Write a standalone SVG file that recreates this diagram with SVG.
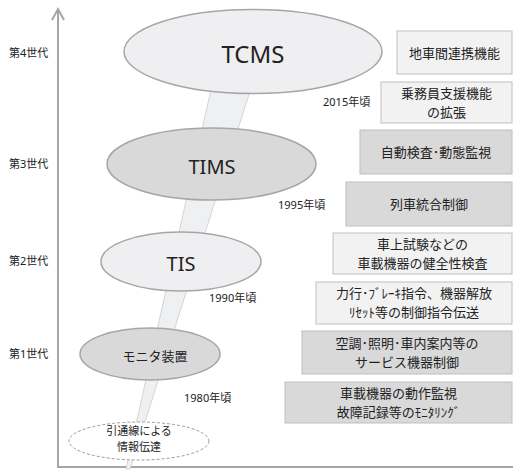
<svg xmlns="http://www.w3.org/2000/svg" width="513" height="473" viewBox="0 0 513 473">
<style>
text{font-family:"Noto Sans","Noto Sans CJK JP",sans-serif;fill:#222;dominant-baseline:central;text-anchor:middle}
.gen{font-size:11px;text-anchor:start}
.yr{font-size:11px;text-anchor:start}
.bx{font-size:13px}
.el{stroke:#a6a6a6;stroke-width:1.5}
.light{fill:#efeff1}
.dark{fill:#d9d9d9}
.box{stroke:#bfbfbf;stroke-width:1}
.bl{fill:#f2f2f2}
.bd{fill:#d9d9d9}
</style>
<g id="axis" fill="none" stroke="#a6a6a6" stroke-width="2">
<line x1="58" y1="9" x2="58" y2="467"/>
<line x1="57" y1="467" x2="513" y2="467"/>
<polyline points="52,20 58,9 64,20"/>
</g>
<g id="connectors">
<polygon points="212,85 252,85 130,469 126,469" fill="#eff0f2" stroke="#d4d4d4" stroke-width="1"/>
</g>
<g id="gen-labels">
<text class="gen" x="9" y="52">第4世代</text>
<text class="gen" x="9" y="163">第3世代</text>
<text class="gen" x="9" y="260">第2世代</text>
<text class="gen" x="9" y="353">第1世代</text>
</g>
<g id="n-tcms"><ellipse class="el light" cx="253" cy="51.5" rx="129" ry="42"/><text x="253" y="53" style="font-size:24px">TCMS</text></g>
<g id="n-tims"><ellipse class="el dark" cx="211.5" cy="164" rx="104.5" ry="36"/><text x="212" y="166" style="font-size:20px">TIMS</text></g>
<g id="n-tis"><ellipse class="el light" cx="181" cy="261.5" rx="80" ry="29.5"/><text x="181" y="263" style="font-size:20px">TIS</text></g>
<g id="n-monitor"><ellipse class="el dark" cx="150" cy="354" rx="70" ry="26"/><text x="155" y="356" style="font-size:13px">モニタ装置</text></g>
<g id="n-wire"><ellipse cx="139" cy="441" rx="70" ry="19" fill="#fff" stroke="#9a9a9a" stroke-width="1" stroke-dasharray="3,2"/><text x="139" y="430" style="font-size:11px">引通線による</text><text x="139" y="446.5" style="font-size:11px">情報伝達</text></g>
<g id="years">
<text class="yr" x="323" y="101">2015年頃</text>
<text class="yr" x="278" y="204">1995年頃</text>
<text class="yr" x="209" y="297">1990年頃</text>
<text class="yr" x="184" y="397">1980年頃</text>
</g>
<g id="b1"><rect class="box bl" x="397" y="31" width="115" height="43"/><text class="bx" x="454.5" y="52.5">地車間連携機能</text></g>
<g id="b2"><rect class="box bl" x="381" y="82" width="131" height="41"/><text class="bx" x="446.5" y="92.5">乗務員支援機能</text><text class="bx" x="446.5" y="111.5">の拡張</text></g>
<g id="b3"><rect class="box bd" x="360" y="130" width="152" height="44"/><text class="bx" x="436" y="152">自動検査･動態監視</text></g>
<g id="b4"><rect class="box bd" x="346" y="182" width="166" height="44"/><text class="bx" x="429" y="204">列車統合制御</text></g>
<g id="b5"><rect class="box bl" x="333" y="233" width="179" height="41"/><text class="bx" x="422.5" y="244">車上試験などの</text><text class="bx" x="422.5" y="263">車載機器の健全性検査</text></g>
<g id="b6"><rect class="box bl" x="316" y="282" width="196" height="42"/><text class="bx" x="414" y="293">力行･ﾌﾞﾚｰｷ指令、機器解放</text><text class="bx" x="414" y="312">ﾘｾｯﾄ等の制御指令伝送</text></g>
<g id="b7"><rect class="box bd" x="302" y="331" width="210" height="43"/><text class="bx" x="407" y="342.5">空調･照明･車内案内等の</text><text class="bx" x="407" y="362">サービス機器制御</text></g>
<g id="b8"><rect class="box bd" x="285" y="382" width="227" height="41"/><text class="bx" x="398.5" y="393">車載機器の動作監視</text><text class="bx" x="398.5" y="412">故障記録等のﾓﾆﾀﾘﾝｸﾞ</text></g>
</svg>
